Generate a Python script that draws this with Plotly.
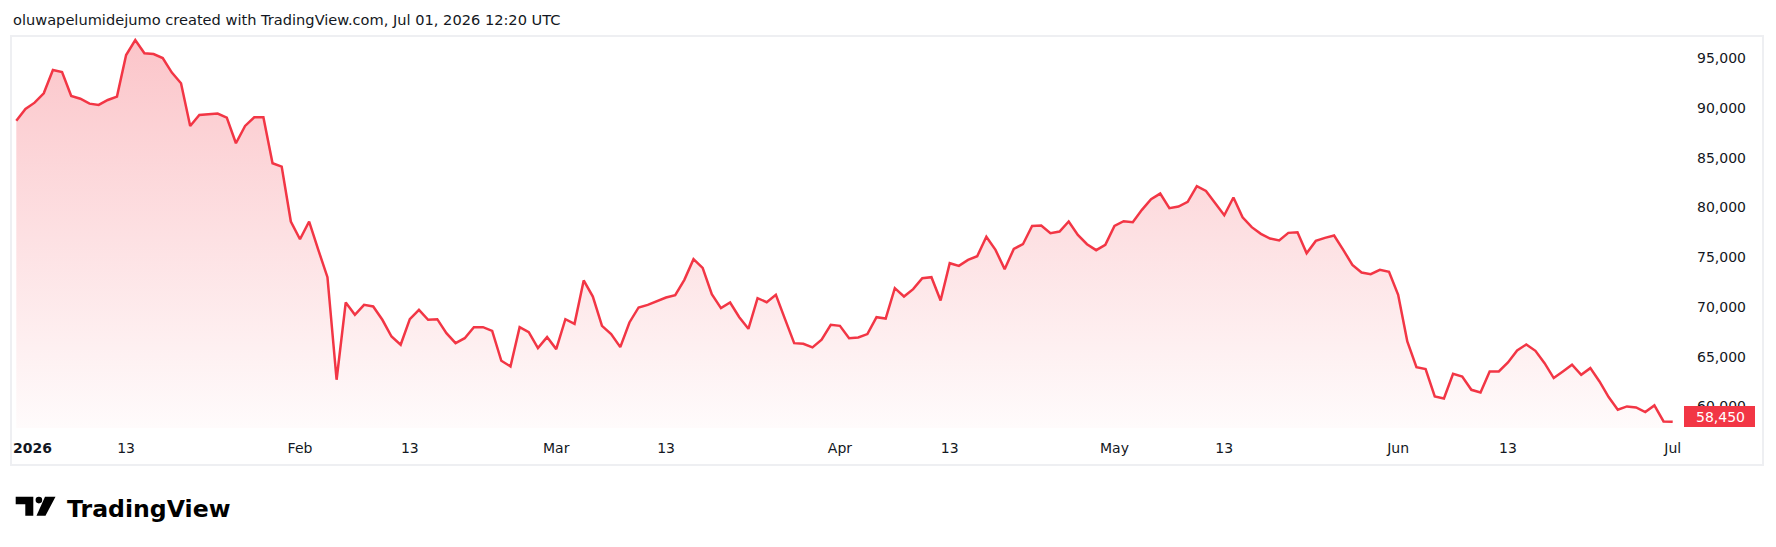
import plotly.graph_objects as go
import pandas as pd

# ---------------- data ----------------
start_date = "2026-01-01"
prices = [
    88730, 89910, 90540, 91480, 93820, 93620, 91210, 90940, 90440, 90310,
    90810, 91150, 95330, 96840, 95500, 95430, 95030, 93560, 92490, 88200,
    89300, 89400, 89440, 89040, 86460, 88200, 89070, 89070, 84450, 84110,
    78590, 76810, 78590, 75740, 72990, 62680, 70450, 69210, 70210, 70050,
    68710, 67030, 66200, 68770, 69710, 68710, 68770, 67370, 66360, 66860,
    67970, 67970, 67600, 64590, 64020, 67970, 67470, 65860, 66970, 65760,
    68770, 68300, 72660, 71050, 68100, 67270, 65960, 68440, 69950, 70210,
    70550, 70950, 71190, 72730, 74800, 73930, 71290, 69880, 70450, 68970,
    67800, 70880, 70480, 71220, 68770, 66360, 66300, 65930, 66700, 68200,
    68100, 66860, 66930, 67270, 68970, 68840, 71890, 71050, 71790, 72890,
    72990, 70650, 74400, 74130, 74730, 75100, 77050, 75740, 73800, 75840,
    76310, 78150, 78180, 77410, 77580, 78590, 77250, 76310, 75710, 76240,
    78150, 78620, 78520, 79760, 80830, 81400, 79930, 80090, 80560, 82140,
    81670, 80430, 79220, 81000, 79020, 78020, 77350, 76880, 76680, 77450,
    77510, 75400, 76640, 76950, 77180, 75740, 74230, 73460, 73300, 73730,
    73530, 71220, 66530, 63950, 63750, 61000, 60800, 63280, 63010, 61670,
    61410, 63520, 63520, 64420, 65630, 66230, 65590, 64350, 62850, 63520,
    64190, 63180, 63850, 62510, 60940, 59670, 60000, 59900, 59430, 60100,
    58490, 58450,
]
dates = pd.date_range(start_date, periods=len(prices), freq="D")

y_ticks = [60000, 65000, 70000, 75000, 80000, 85000, 90000, 95000]
x_tick_dates = ["2026-01-13", "2026-02-01", "2026-02-13", "2026-03-01", "2026-03-13",
                "2026-04-01", "2026-04-13", "2026-05-01", "2026-05-13", "2026-06-01",
                "2026-06-13", "2026-07-01"]
x_tick_text = ["13", "Feb", "13", "Mar", "13", "Apr", "13", "May", "13", "Jun", "13", "Jul"]
year_label = "2026"
last_price_text = "58,450"
header_text = "oluwapelumidejumo created with TradingView.com, Jul 01, 2026 12:20 UTC"
brand_text = "TradingView"

# ---------------- layout geometry ----------------
W, H = 1776, 547
L, R, T, B = 12, 1684, 37, 428
RED = "#F23645"
TXT = "#131722"
FONT = "DejaVu Sans"


def xp(px):
    return (px - L) / (R - L)


def yp(py):
    return (B - py) / (B - T)


px_per_day = 9.151
first_px = 16.3
x_start = pd.Timestamp(start_date) - pd.Timedelta(days=(first_px - L) / px_per_day)
x_end = dates[-1] + pd.Timedelta(days=(R - 1672.7) / px_per_day)
y_lo, y_hi = 57829, 97142

fig = go.Figure()
fig.add_trace(go.Scatter(
    x=dates, y=prices, mode="lines",
    line=dict(color=RED, width=2.5),
    fill="tozeroy",
    fillgradient=dict(
        type="vertical",
        colorscale=[[0, "rgba(242,54,69,0.02)"], [1, "rgba(242,54,69,0.29)"]],
        start=y_lo, stop=y_hi,
    ),
    hoverinfo="skip",
    showlegend=False,
))

shapes = [
    # outer frame
    dict(type="rect", xref="paper", yref="paper",
         x0=xp(11), x1=xp(1763), y0=yp(465), y1=yp(36),
         line=dict(color="#EEEFF2", width=2), fillcolor="rgba(0,0,0,0)", layer="above"),
    # last price box
    dict(type="rect", xref="paper", yref="paper",
         x0=xp(1684), x1=xp(1755), y0=yp(427), y1=yp(406),
         line=dict(width=0), fillcolor=RED, layer="above"),
    # logo: bar + stem
    dict(type="path", xref="paper", yref="paper",
         path=("M {a},{b} L {c},{b} L {c},{d} L {e},{d} L {e},{f} L {a},{f} Z").format(
             a=xp(15.7), b=yp(496.7), c=xp(33.3), d=yp(515.7), e=xp(25.3), f=yp(504.2)),
         line=dict(width=0), fillcolor="#000000", layer="above"),
    # logo: dot
    dict(type="circle", xref="paper", yref="paper",
         x0=xp(35.6), x1=xp(42.2), y0=yp(503.4), y1=yp(496.8),
         line=dict(width=0), fillcolor="#000000", layer="above"),
    # logo: slash
    dict(type="path", xref="paper", yref="paper",
         path=("M {a},{y1} L {b},{y1} L {c},{y2} L {d},{y2} Z").format(
             a=xp(45.0), b=xp(55.5), c=xp(45.5), d=xp(36.5), y1=yp(496.7), y2=yp(515.7)),
         line=dict(width=0), fillcolor="#000000", layer="above"),
]

annotations = [
    dict(text=header_text, xref="paper", yref="paper", x=xp(11), y=yp(19),
         xanchor="left", yanchor="middle", showarrow=False,
         font=dict(family=FONT, size=14.6, color=TXT)),
    dict(text="<b>" + year_label + "</b>", xref="paper", yref="paper", x=xp(11), y=yp(448),
         xanchor="left", yanchor="middle", showarrow=False,
         font=dict(family=FONT, size=14, color=TXT)),
    dict(text=last_price_text, xref="paper", yref="paper", x=xp(1747), y=yp(416.5),
         xanchor="right", yanchor="middle", showarrow=False,
         font=dict(family=FONT, size=14, color="#FFFFFF")),
    dict(text="<b>" + brand_text + "</b>", xref="paper", yref="paper", x=xp(65), y=yp(509),
         xanchor="left", yanchor="middle", showarrow=False,
         font=dict(family=FONT, size=23.6, color="#000000")),
]

fig.update_layout(
    width=W, height=H,
    margin=dict(l=L, r=W - R, t=T, b=H - B, pad=0),
    paper_bgcolor="#FFFFFF", plot_bgcolor="#FFFFFF",
    shapes=shapes, annotations=annotations,
    xaxis=dict(
        range=[x_start, x_end], showgrid=False, zeroline=False, showline=False,
        tickmode="array", tickvals=x_tick_dates, ticktext=x_tick_text,
        ticks="", ticklabelstandoff=10,
        tickfont=dict(family=FONT, size=14, color=TXT),
    ),
    yaxis=dict(
        range=[y_lo, y_hi], side="right", showgrid=False, zeroline=False, showline=False,
        tickmode="array", tickvals=y_ticks, tickformat=",d",
        ticks="", ticklabelstandoff=12,
        tickfont=dict(family=FONT, size=14, color=TXT),
    ),
)

fig.write_html("out.html")
